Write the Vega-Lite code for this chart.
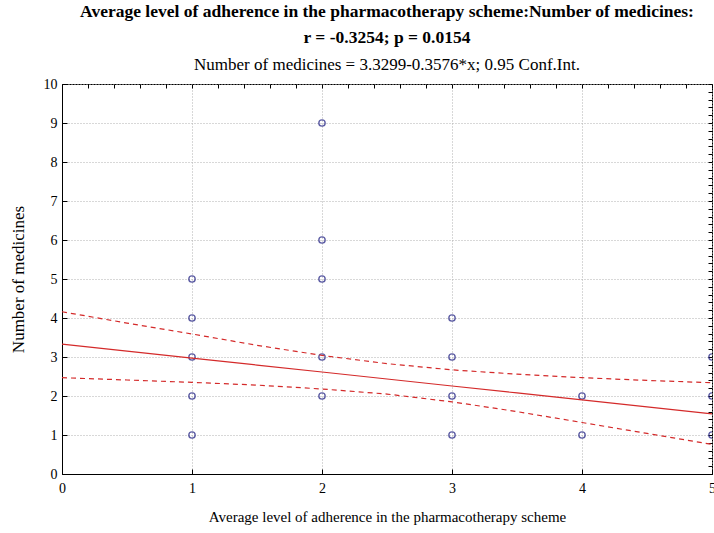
{
  "$schema": "https://vega.github.io/schema/vega-lite/v6.json",
  "width": 650,
  "height": 390,
  "autosize": {"type": "none"},
  "padding": {"left": 62, "top": 84, "right": 2, "bottom": 59},
  "background": "white",
  "title": {
    "text": ["Average level of adherence in the pharmacotherapy scheme:Number of medicines:", "r = -0.3254; p = 0.0154"],
    "subtitle": "Number of medicines = 3.3299-0.3576*x; 0.95 Conf.Int.",
    "anchor": "middle",
    "font": "Liberation Serif",
    "fontSize": 17.5,
    "fontWeight": "bold",
    "color": "#000",
    "lineHeight": 26,
    "subtitleFont": "Liberation Serif",
    "subtitleFontSize": 17,
    "subtitleColor": "#000",
    "subtitlePadding": 11,
    "offset": 4
  },
  "config": {
    "view": {"stroke": "#000", "strokeWidth": 1},
    "axis": {
      "labelFont": "Liberation Serif",
      "labelFontSize": 14,
      "labelColor": "#000",
      "titleFont": "Liberation Serif",
      "titleFontSize": 15,
      "titleFontWeight": "normal",
      "titleColor": "#000",
      "domainColor": "#000",
      "tickColor": "#000",
      "gridColor": "#b0b0b0",
      "gridDash": [1, 2],
      "gridWidth": 1
    }
  },
  "datasets": {
    "pts": [
      {"adherence": 1, "medicines": 1},
      {"adherence": 1, "medicines": 2},
      {"adherence": 1, "medicines": 3},
      {"adherence": 1, "medicines": 4},
      {"adherence": 1, "medicines": 5},
      {"adherence": 2, "medicines": 2},
      {"adherence": 2, "medicines": 3},
      {"adherence": 2, "medicines": 5},
      {"adherence": 2, "medicines": 6},
      {"adherence": 2, "medicines": 9},
      {"adherence": 3, "medicines": 1},
      {"adherence": 3, "medicines": 2},
      {"adherence": 3, "medicines": 3},
      {"adherence": 3, "medicines": 4},
      {"adherence": 4, "medicines": 1},
      {"adherence": 4, "medicines": 2},
      {"adherence": 5, "medicines": 1},
      {"adherence": 5, "medicines": 2},
      {"adherence": 5, "medicines": 3}
    ],
    "fit": [
      {"adherence": 0, "fit": 3.3299, "lower": 2.47, "upper": 4.16},
      {"adherence": 0.5, "fit": 3.151, "lower": 2.41, "upper": 3.87},
      {"adherence": 1, "fit": 2.972, "lower": 2.35, "upper": 3.59},
      {"adherence": 1.5, "fit": 2.793, "lower": 2.28, "upper": 3.30},
      {"adherence": 2, "fit": 2.615, "lower": 2.18, "upper": 3.04},
      {"adherence": 2.5, "fit": 2.436, "lower": 2.05, "upper": 2.83},
      {"adherence": 3, "fit": 2.257, "lower": 1.85, "upper": 2.67},
      {"adherence": 3.5, "fit": 2.078, "lower": 1.60, "upper": 2.56},
      {"adherence": 4, "fit": 1.899, "lower": 1.32, "upper": 2.47},
      {"adherence": 4.5, "fit": 1.721, "lower": 1.04, "upper": 2.40},
      {"adherence": 5, "fit": 1.542, "lower": 0.76, "upper": 2.34}
    ]
  },
  "resolve": {"axis": {"x": "independent", "y": "independent"}},
  "layer": [
    {
      "data": {"name": "pts"},
      "mark": {"type": "point", "shape": "circle", "filled": false, "color": "#1c1c80", "strokeWidth": 1.4, "size": 40, "clip": true},
      "encoding": {
        "x": {"field": "adherence", "type": "quantitative", "scale": {"domain": [0, 5], "nice": false},
          "axis": {"title": "Average level of adherence in the pharmacotherapy scheme", "values": [0, 1, 2, 3, 4, 5], "tickSize": -5, "labelPadding": 12, "titlePadding": 14, "grid": true, "labelFlush": false}},
        "y": {"field": "medicines", "type": "quantitative", "scale": {"domain": [0, 10], "nice": false},
          "axis": {"title": "Number of medicines", "titleFontSize": 17, "values": [0, 1, 2, 3, 4, 5, 6, 7, 8, 9, 10], "tickSize": -5, "labelPadding": 10, "titlePadding": 16, "grid": true, "labelFlush": false}}
      }
    },
    {
      "data": {"name": "fit"},
      "mark": {"type": "line", "color": "#d42a2a", "strokeWidth": 1.2},
      "encoding": {
        "x": {"field": "adherence", "type": "quantitative", "scale": {"domain": [0, 5], "nice": false},
          "axis": {"orient": "top", "title": null, "labels": false, "domain": false, "grid": false, "values": [0, 0.2, 0.4, 0.6, 0.8, 1, 1.2, 1.4, 1.6, 1.8, 2, 2.2, 2.4, 2.6, 2.8, 3, 3.2, 3.4, 3.6, 3.8, 4, 4.2, 4.4, 4.6, 4.8, 5], "tickSize": -4}},
        "y": {"field": "fit", "type": "quantitative", "scale": {"domain": [0, 10], "nice": false},
          "axis": {"orient": "right", "title": null, "labels": false, "domain": false, "grid": false, "values": [0, 0.2, 0.4, 0.6, 0.8, 1, 1.2, 1.4, 1.6, 1.8, 2, 2.2, 2.4, 2.6, 2.8, 3, 3.2, 3.4, 3.6, 3.8, 4, 4.2, 4.4, 4.6, 4.8, 5, 5.2, 5.4, 5.6, 5.8, 6, 6.2, 6.4, 6.6, 6.8, 7, 7.2, 7.4, 7.6, 7.8, 8, 8.2, 8.4, 8.6, 8.8, 9, 9.2, 9.4, 9.6, 9.8, 10], "tickSize": -4}}
      }
    },
    {
      "data": {"name": "fit"},
      "mark": {"type": "line", "color": "#d42a2a", "strokeWidth": 1.2, "strokeDash": [5, 4]},
      "encoding": {
        "x": {"field": "adherence", "type": "quantitative", "scale": {"domain": [0, 5], "nice": false}, "axis": null},
        "y": {"field": "upper", "type": "quantitative", "scale": {"domain": [0, 10], "nice": false}, "axis": null}
      }
    },
    {
      "data": {"name": "fit"},
      "mark": {"type": "line", "color": "#d42a2a", "strokeWidth": 1.2, "strokeDash": [5, 4]},
      "encoding": {
        "x": {"field": "adherence", "type": "quantitative", "scale": {"domain": [0, 5], "nice": false}, "axis": null},
        "y": {"field": "lower", "type": "quantitative", "scale": {"domain": [0, 10], "nice": false}, "axis": null}
      }
    }
  ]
}
